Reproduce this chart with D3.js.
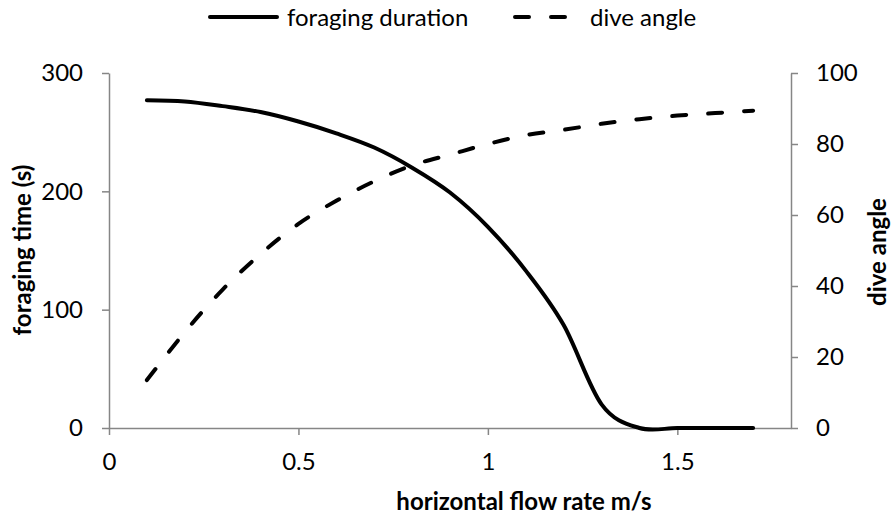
<!DOCTYPE html>
<html>
<head>
<meta charset="utf-8">
<script src="https://cdn.jsdelivr.net/npm/d3@7"></script>
<style>
  body { margin: 0; background: #fff; }
  text { font-family: Lato, "Open Sans", sans-serif; fill: #000; }
</style>
</head>
<body>
<div id="G"></div>
<script>
// flow rate (m/s) shared by both series
var flowRate = [0.1, 0.2, 0.3, 0.4, 0.5, 0.6, 0.7, 0.8, 0.9, 1.0, 1.1, 1.2, 1.3, 1.4, 1.5, 1.6, 1.7];
var foragingDuration = [277, 276, 272, 267, 259, 249, 237, 220, 199, 170, 133, 87, 20, 0, 0, 0, 0];
var diveAngle = [13.5, 27, 39, 49, 57.5, 64, 69.5, 74, 77, 80, 82.5, 84, 85.7, 87, 88, 88.7, 89.4];

var xTicks = [0, 0.5, 1, 1.5];
var leftTicks = [0, 100, 200, 300];
var rightTicks = [0, 20, 40, 60, 80, 100];

var W = 892, H = 515;
var Border = { top: 73, right: 101, bottom: 87, left: 109 },
  width = W - Border.left - Border.right,
  height = H - Border.top - Border.bottom;

var axisColor = "#868686";
var fontSize = 24;

var svg = d3.select("#G")
  .append("svg")
  .attr("width", W)
  .attr("height", H);

var g = svg.append("g")
  .attr("transform", "translate(" + Border.left + "," + Border.top + ")");

var x = d3.scaleLinear().domain([0, 1.8]).range([0, width]);
var yL = d3.scaleLinear().domain([0, 300]).range([height, 0]);
var yR = d3.scaleLinear().domain([0, 100]).range([height, 0]);

function styleAxis(sel) {
  sel.select(".domain").attr("stroke", axisColor).attr("stroke-width", 1.5);
  sel.selectAll(".tick line").attr("stroke", axisColor).attr("stroke-width", 1.5);
  sel.selectAll(".tick text").attr("font-size", fontSize).attr("font-family", "Lato, 'Open Sans', sans-serif").attr("fill", "#000");
}

// axes
var gx = g.append("g")
  .attr("transform", "translate(0," + height + ")")
  .call(d3.axisBottom(x).tickValues(xTicks).tickSize(7).tickSizeOuter(0).tickPadding(18)
    .tickFormat(function (d) { return String(d); }));
styleAxis(gx);

var gl = g.append("g")
  .call(d3.axisLeft(yL).tickValues(leftTicks).tickSize(7).tickSizeOuter(0).tickPadding(19));
styleAxis(gl);

var gr = g.append("g")
  .attr("transform", "translate(" + width + ",0)")
  .call(d3.axisRight(yR).tickValues(rightTicks).tickSize(7).tickSizeOuter(0).tickPadding(18));
styleAxis(gr);

// smoothed lines (Excel style smoothing ~ uniform Catmull-Rom)
var smooth = d3.curveCardinal.tension(0);

var solidLine = d3.line()
  .x(function (d, i) { return x(flowRate[i]); })
  .y(function (d) { return yL(d); })
  .curve(smooth);

var dashLine = d3.line()
  .x(function (d, i) { return x(flowRate[i]); })
  .y(function (d) { return yR(d); })
  .curve(smooth);

g.append("path")
  .datum(foragingDuration)
  .attr("fill", "none")
  .attr("stroke", "#000")
  .attr("stroke-width", 4)
  .attr("stroke-linecap", "round")
  .attr("d", solidLine);

g.append("path")
  .datum(diveAngle)
  .attr("fill", "none")
  .attr("stroke", "#000")
  .attr("stroke-width", 4)
  .attr("stroke-linecap", "round")
  .attr("stroke-dasharray", "14,22")
  .attr("d", dashLine);

// axis titles
svg.append("text")
  .attr("x", 524).attr("y", 510)
  .attr("text-anchor", "middle")
  .attr("font-size", fontSize).attr("font-weight", "bold")
  .text("horizontal flow rate m/s");

svg.append("text")
  .attr("transform", "translate(31,250) rotate(-90)")
  .attr("text-anchor", "middle")
  .attr("font-size", fontSize).attr("font-weight", "bold")
  .text("foraging time (s)");

svg.append("text")
  .attr("transform", "translate(886,252) rotate(-90)")
  .attr("text-anchor", "middle")
  .attr("font-size", fontSize).attr("font-weight", "bold")
  .text("dive angle");

// legend
var legend = svg.append("g");
legend.append("line")
  .attr("x1", 210).attr("x2", 277).attr("y1", 17).attr("y2", 17)
  .attr("stroke", "#000").attr("stroke-width", 4).attr("stroke-linecap", "round");
legend.append("text")
  .attr("x", 287).attr("y", 26).attr("font-size", fontSize)
  .text("foraging duration");
legend.append("line")
  .attr("x1", 515).attr("x2", 568).attr("y1", 17).attr("y2", 17)
  .attr("stroke", "#000").attr("stroke-width", 4).attr("stroke-linecap", "round")
  .attr("stroke-dasharray", "14,22");
legend.append("text")
  .attr("x", 590).attr("y", 26).attr("font-size", fontSize)
  .text("dive angle");
</script>
</body>
</html>
